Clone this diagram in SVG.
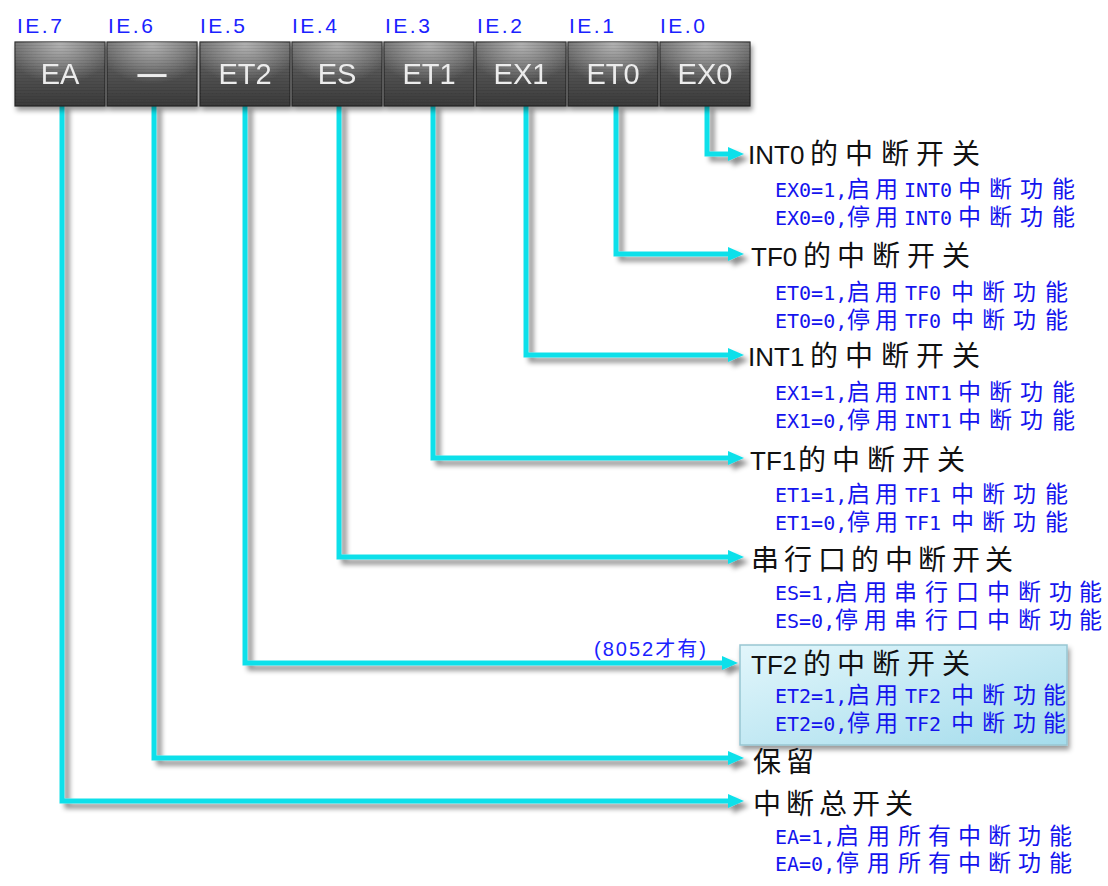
<svg xmlns="http://www.w3.org/2000/svg" width="1108" height="886" viewBox="0 0 1108 886">
<defs>
<style>
.ie{font-family:"Liberation Sans",Arial,sans-serif;font-size:21px;fill:#1a22ff;letter-spacing:2.5px}
.reg{fill:url(#regGrad);stroke:#262626;stroke-width:1.2}
.regtxt{font-family:"Liberation Sans",Arial,sans-serif;font-size:29px;fill:#ececec;text-anchor:middle}
.title{font-family:"Liberation Sans","Noto Sans CJK SC",sans-serif;font-size:26px;fill:#111}
.tc{font-family:"Noto Sans CJK SC",sans-serif;font-size:28px}
.desc{font-family:"DejaVu Sans Mono","Noto Sans CJK SC",monospace;font-size:20px;fill:#1414ee}
.cj{font-family:"Noto Sans CJK SC",sans-serif;font-size:23px}
.note{font-family:"Liberation Sans","Noto Sans CJK SC",sans-serif;font-size:20px;fill:#1a22ff;letter-spacing:2px}
.conn{fill:none;stroke:#10e0ea;stroke-width:5;marker-end:url(#arr)}
</style>
<linearGradient id="regGrad" x1="0" y1="0" x2="0" y2="1">
<stop offset="0" stop-color="#6e6e6e"/>
<stop offset="0.45" stop-color="#555"/>
<stop offset="1" stop-color="#3a3a3a"/>
</linearGradient>
<radialGradient id="regHi" cx="0.5" cy="0.05" r="0.6">
<stop offset="0" stop-color="#c8c8c8" stop-opacity="0.75"/>
<stop offset="1" stop-color="#c8c8c8" stop-opacity="0"/>
</radialGradient>
<pattern id="lines" width="4" height="3" patternUnits="userSpaceOnUse">
<rect width="4" height="1" fill="#000" fill-opacity="0.08"/>
</pattern>
<linearGradient id="boxGrad" x1="0" y1="0" x2="1" y2="1">
<stop offset="0" stop-color="#e2f6fb"/>
<stop offset="1" stop-color="#a4dcec"/>
</linearGradient>
<filter id="sh" x="-5%" y="-5%" width="115%" height="115%">
<feDropShadow dx="5" dy="5" stdDeviation="2.5" flood-color="#000" flood-opacity="0.45"/>
</filter>
<filter id="sh2" x="-5%" y="-10%" width="115%" height="130%">
<feDropShadow dx="2" dy="4" stdDeviation="2.5" flood-color="#000" flood-opacity="0.4"/>
</filter>
<marker id="arr" markerUnits="userSpaceOnUse" markerWidth="18" markerHeight="16" refX="2" refY="8" orient="auto" viewBox="0 0 18 16">
<path d="M0,1 L16,8 L0,15 Z" fill="#10e0ea"/>
</marker>
</defs>
<rect width="1108" height="886" fill="#fff"/>

<g id="connectors" filter="url(#sh)">
<path class="conn" d="M707 104 V154 H730"/>
<path class="conn" d="M616 104 V254 H730"/>
<path class="conn" d="M526 104 V355 H730"/>
<path class="conn" d="M433 104 V458 H730"/>
<path class="conn" d="M339 104 V557 H730"/>
<path class="conn" d="M245 104 V663 H724"/>
<path class="conn" d="M154 104 V758 H730"/>
<path class="conn" d="M62 104 V801 H730"/>
</g>

<g id="register" filter="url(#sh2)">
<g id="reg-EA"><rect class="reg" x="15" y="42" width="90" height="64"/><rect x="15" y="42" width="90" height="64" fill="url(#regHi)"/><rect x="15" y="42" width="90" height="64" fill="url(#lines)"/><text class="regtxt" x="60" y="84">EA</text></g>
<g id="reg-IE6"><rect class="reg" x="107" y="42" width="90" height="64"/><rect x="107" y="42" width="90" height="64" fill="url(#regHi)"/><rect x="107" y="42" width="90" height="64" fill="url(#lines)"/><text class="regtxt" x="152" y="84" font-weight="bold">—</text></g>
<g id="reg-ET2"><rect class="reg" x="200" y="42" width="90" height="64"/><rect x="200" y="42" width="90" height="64" fill="url(#regHi)"/><rect x="200" y="42" width="90" height="64" fill="url(#lines)"/><text class="regtxt" x="245" y="84">ET2</text></g>
<g id="reg-ES"><rect class="reg" x="292" y="42" width="90" height="64"/><rect x="292" y="42" width="90" height="64" fill="url(#regHi)"/><rect x="292" y="42" width="90" height="64" fill="url(#lines)"/><text class="regtxt" x="337" y="84">ES</text></g>
<g id="reg-ET1"><rect class="reg" x="384" y="42" width="90" height="64"/><rect x="384" y="42" width="90" height="64" fill="url(#regHi)"/><rect x="384" y="42" width="90" height="64" fill="url(#lines)"/><text class="regtxt" x="429" y="84">ET1</text></g>
<g id="reg-EX1"><rect class="reg" x="476" y="42" width="90" height="64"/><rect x="476" y="42" width="90" height="64" fill="url(#regHi)"/><rect x="476" y="42" width="90" height="64" fill="url(#lines)"/><text class="regtxt" x="521" y="84">EX1</text></g>
<g id="reg-ET0"><rect class="reg" x="568" y="42" width="90" height="64"/><rect x="568" y="42" width="90" height="64" fill="url(#regHi)"/><rect x="568" y="42" width="90" height="64" fill="url(#lines)"/><text class="regtxt" x="613" y="84">ET0</text></g>
<g id="reg-EX0"><rect class="reg" x="660" y="42" width="90" height="64"/><rect x="660" y="42" width="90" height="64" fill="url(#regHi)"/><rect x="660" y="42" width="90" height="64" fill="url(#lines)"/><text class="regtxt" x="705" y="84">EX0</text></g>
</g>

<g id="bit-labels">
<text class="ie" x="17" y="33">IE.7</text>
<text class="ie" x="108" y="33">IE.6</text>
<text class="ie" x="200" y="33">IE.5</text>
<text class="ie" x="292" y="33">IE.4</text>
<text class="ie" x="385" y="33">IE.3</text>
<text class="ie" x="477" y="33">IE.2</text>
<text class="ie" x="569" y="33">IE.1</text>
<text class="ie" x="660" y="33">IE.0</text>
</g>

<g id="desc-INT0">
<text class="title" y="164"><tspan x="748">INT0</tspan><tspan class="tc" x="810 845 881 916 952">的中断开关</tspan></text>
<text class="desc" y="197"><tspan x="775">EX0=1,</tspan><tspan class="cj" x="847 875">启用</tspan><tspan x="904">INT0</tspan><tspan class="cj" x="958 989 1020 1052">中断功能</tspan></text>
<text class="desc" y="225"><tspan x="775">EX0=0,</tspan><tspan class="cj" x="847 875">停用</tspan><tspan x="904">INT0</tspan><tspan class="cj" x="958 989 1020 1052">中断功能</tspan></text>
</g>

<g id="desc-TF0">
<text class="title" y="266"><tspan x="751">TF0</tspan><tspan class="tc" x="803 837 872 907 942">的中断开关</tspan></text>
<text class="desc" y="300"><tspan x="775">ET0=1,</tspan><tspan class="cj" x="847 875">启用</tspan><tspan x="905">TF0</tspan><tspan class="cj" x="951 982 1013 1045">中断功能</tspan></text>
<text class="desc" y="328"><tspan x="775">ET0=0,</tspan><tspan class="cj" x="847 875">停用</tspan><tspan x="905">TF0</tspan><tspan class="cj" x="951 982 1013 1045">中断功能</tspan></text>
</g>

<g id="desc-INT1">
<text class="title" y="366"><tspan x="748">INT1</tspan><tspan class="tc" x="810 845 881 916 952">的中断开关</tspan></text>
<text class="desc" y="400"><tspan x="775">EX1=1,</tspan><tspan class="cj" x="847 875">启用</tspan><tspan x="904">INT1</tspan><tspan class="cj" x="958 989 1020 1052">中断功能</tspan></text>
<text class="desc" y="428"><tspan x="775">EX1=0,</tspan><tspan class="cj" x="847 875">停用</tspan><tspan x="904">INT1</tspan><tspan class="cj" x="958 989 1020 1052">中断功能</tspan></text>
</g>

<g id="desc-TF1">
<text class="title" y="470"><tspan x="750">TF1</tspan><tspan class="tc" x="798 832 867 902 937">的中断开关</tspan></text>
<text class="desc" y="502"><tspan x="775">ET1=1,</tspan><tspan class="cj" x="847 875">启用</tspan><tspan x="905">TF1</tspan><tspan class="cj" x="951 982 1013 1045">中断功能</tspan></text>
<text class="desc" y="530"><tspan x="775">ET1=0,</tspan><tspan class="cj" x="847 875">停用</tspan><tspan x="905">TF1</tspan><tspan class="cj" x="951 982 1013 1045">中断功能</tspan></text>
</g>

<g id="desc-ES">
<text class="title tc" x="751 784 818 851 885 918 952 985" y="570">串行口的中断开关</text>
<text class="desc" y="600"><tspan x="775">ES=1,</tspan><tspan class="cj" x="835 864 894 925 956 987 1018 1049 1079">启用串行口中断功能</tspan></text>
<text class="desc" y="628"><tspan x="775">ES=0,</tspan><tspan class="cj" x="835 864 894 925 956 987 1018 1049 1079">停用串行口中断功能</tspan></text>
</g>

<g id="desc-TF2">
<rect x="740" y="645" width="327" height="100" fill="url(#boxGrad)" stroke="#98c6d2" stroke-width="1.5" filter="url(#sh2)"/>
<text class="note" x="594" y="656">(8052才有)</text>
<text class="title" y="674"><tspan x="751">TF2</tspan><tspan class="tc" x="803 837 872 907 942">的中断开关</tspan></text>
<text class="desc" y="703"><tspan x="775">ET2=1,</tspan><tspan class="cj" x="847 875">启用</tspan><tspan x="905">TF2</tspan><tspan class="cj" x="951 982 1013 1043">中断功能</tspan></text>
<text class="desc" y="731"><tspan x="775">ET2=0,</tspan><tspan class="cj" x="847 875">停用</tspan><tspan x="905">TF2</tspan><tspan class="cj" x="951 982 1013 1043">中断功能</tspan></text>
</g>

<g id="desc-reserved">
<text class="title tc" x="753 786" y="772">保留</text>
</g>

<g id="desc-EA">
<text class="title tc" x="753 786 819 852 885" y="814">中断总开关</text>
<text class="desc" y="844"><tspan x="775">EA=1,</tspan><tspan class="cj" x="836 867 898 928 958 988 1018 1049">启用所有中断功能</tspan></text>
<text class="desc" y="871"><tspan x="775">EA=0,</tspan><tspan class="cj" x="836 867 898 928 958 988 1018 1049">停用所有中断功能</tspan></text>
</g>
</svg>
